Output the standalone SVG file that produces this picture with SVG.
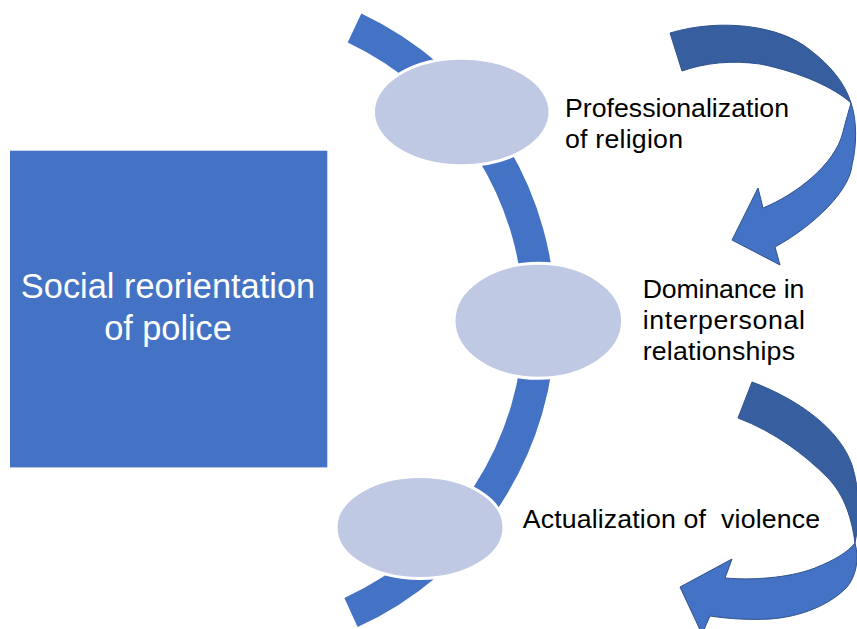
<svg xmlns="http://www.w3.org/2000/svg" width="857" height="629" viewBox="0 0 857 629">
  <style>
    .lbl { font-family: "Liberation Sans", Arial, sans-serif; font-size: 26.7px; fill: #000000; white-space: pre; }
    .title { font-family: "Liberation Sans", Arial, sans-serif; font-size: 34.4px; fill: #FFFFFF; text-anchor: middle; }
    .oval { fill: #BFC9E3; stroke: #FFFFFF; stroke-width: 3; }
    .back { fill: #375E9F; stroke: #2F528F; stroke-width: 1; }
    .front { fill: #4472C4; stroke: #2F528F; stroke-width: 1; }
  </style>
  <rect width="857" height="629" fill="#FFFFFF"/>

  <g id="arc">
    <path d="M 354.5 28 A 322 322 0 0 1 351 612.5" fill="none" stroke="#4472C4" stroke-width="32"/>
  </g>

  <g id="main-box">
    <rect x="10" y="150.7" width="317.3" height="316.7" fill="#4472C4"/>
    <text class="title" x="168" y="298.3" textLength="294.3">Social reorientation</text>
    <text class="title" x="168" y="340" textLength="127.7">of police</text>
  </g>

  <g id="node-1">
    <ellipse class="oval" cx="461.7" cy="112" rx="88.3" ry="53.7"/>
    <text class="lbl" x="565" y="117.3" textLength="224">Professionalization</text>
    <text class="lbl" x="565" y="148.3" textLength="118">of religion</text>
  </g>

  <g id="node-2">
    <ellipse class="oval" cx="538.3" cy="320.8" rx="84.3" ry="57.5"/>
    <text class="lbl" x="642.7" y="297.7" textLength="161.6">Dominance in</text>
    <text class="lbl" x="642.7" y="329" textLength="162.3">interpersonal</text>
    <text class="lbl" x="642.7" y="360" textLength="152.3">relationships</text>
  </g>

  <g id="node-3">
    <ellipse class="oval" cx="420" cy="527.5" rx="84" ry="51"/>
    <text class="lbl" x="522.7" y="528.3" textLength="297.3">Actualization of  violence</text>
  </g>

  <g id="connectors">
    <g id="arrow-1-2">
      <path class="back" d="M 670 33 C 720 18 780 25 810 50 C 830 65 845 83 851 103 C 835 88 800 72 760 64 C 730 60 705 63 682 71 Z"/>
      <path class="front" d="M 851 103 C 857 120 857 145 852 165 C 850 190 815 225 775 247 L 780 265 L 732 240 L 758 188 L 763 208 C 795 195 835 165 843 132 C 846 120 849 110 851 103 Z"/>
    </g>
    <g id="arrow-2-3">
      <path class="back" d="M 752 382 C 800 400 840 430 852 465 C 860 490 860 520 855 543 C 852 520 845 495 827 477 C 805 455 775 432 738 418 Z"/>
      <path class="front" d="M 855 543 C 860 560 855 578 847 587 C 830 605 800 617 770 619 C 750 620 730 619 710 616 L 702 634 L 680 587 L 732 559 L 725 578 C 760 581 795 576 815 568 C 835 560 848 552 855 543 Z"/>
    </g>
  </g>
</svg>
